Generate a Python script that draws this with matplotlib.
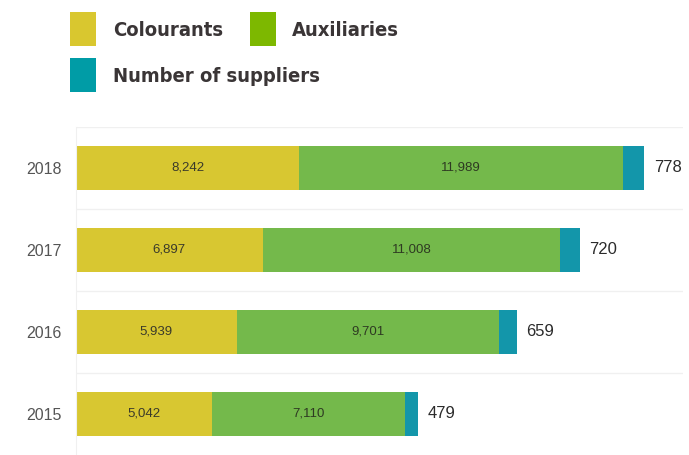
import matplotlib
matplotlib.use("Agg")
import matplotlib.pyplot as plt
from matplotlib.patches import Rectangle

years = ["2015", "2016", "2017", "2018"]
colourants = [5042, 5939, 6897, 8242]
auxiliaries = [7110, 9701, 11008, 11989]
suppliers = [479, 659, 720, 778]

bar_colors = ["#d8c731", "#74b94b", "#1396aa"]
legend_colors = ["#d9c72f", "#7db800", "#009ca6"]
legend_labels = ["Colourants", "Auxiliaries", "Number of suppliers"]

fig = plt.figure(figsize=(6.89, 4.55), dpi=100)
ax = fig.add_axes([76/689, 0, 607/689, 328/455])

y = list(range(len(years)))
ax.barh(y, colourants, height=0.54, color=bar_colors[0])
ax.barh(y, auxiliaries, left=colourants, height=0.54, color=bar_colors[1])
left2 = [c + a for c, a in zip(colourants, auxiliaries)]
ax.barh(y, suppliers, left=left2, height=0.54, color=bar_colors[2])

for i in y:
    ax.text(colourants[i] / 2, i, f"{colourants[i]:,}", ha="center", va="center",
            fontsize=9.5, color="#3a3a2a", family="Liberation Sans")
    ax.text(colourants[i] + auxiliaries[i] / 2, i, f"{auxiliaries[i]:,}", ha="center",
            va="center", fontsize=9.5, color="#2e3a22", family="Liberation Sans")
    ax.annotate(f"{suppliers[i]}", xy=(left2[i] + suppliers[i], i), xytext=(7, 0),
                textcoords="offset points", ha="left", va="center", fontsize=12,
                color="#2b2b2b", family="Liberation Sans")

for b in [0.5, 1.5, 2.5, 3.5]:
    ax.axhline(b, color="#f0f0f0", lw=1, zorder=0)

ax.set_xlim(0, 22440)
ax.set_ylim(-0.5, 3.5)
ax.set_yticks(y)
ax.set_yticklabels(years, fontsize=11.5, color="#555555", family="Liberation Sans")
ax.tick_params(axis="y", length=0, pad=10)
ax.set_xticks([])
for s in ["top", "right", "bottom"]:
    ax.spines[s].set_visible(False)
ax.spines["left"].set_color("#f0f0f0")

W, H = 689, 455
def rect(x0, y0, x1, y1, c):
    fig.add_artist(Rectangle((x0 / W, 1 - y1 / H), (x1 - x0) / W, (y1 - y0) / H,
                             transform=fig.transFigure, color=c, lw=0))

rect(70, 12, 96, 46, legend_colors[0])
rect(250, 12, 276, 46, legend_colors[1])
rect(70, 58, 96, 92, legend_colors[2])
tkw = dict(fontsize=14.5, fontweight="bold", color="#3a3536", va="center", ha="left",
           family="DejaVu Sans", fontstretch="condensed")
fig.text(113 / W, 1 - 30 / H, legend_labels[0], **tkw)
fig.text(292 / W, 1 - 30 / H, legend_labels[1], **tkw)
fig.text(113 / W, 1 - 76 / H, legend_labels[2], **tkw)

fig.savefig("out.png", dpi=100)
